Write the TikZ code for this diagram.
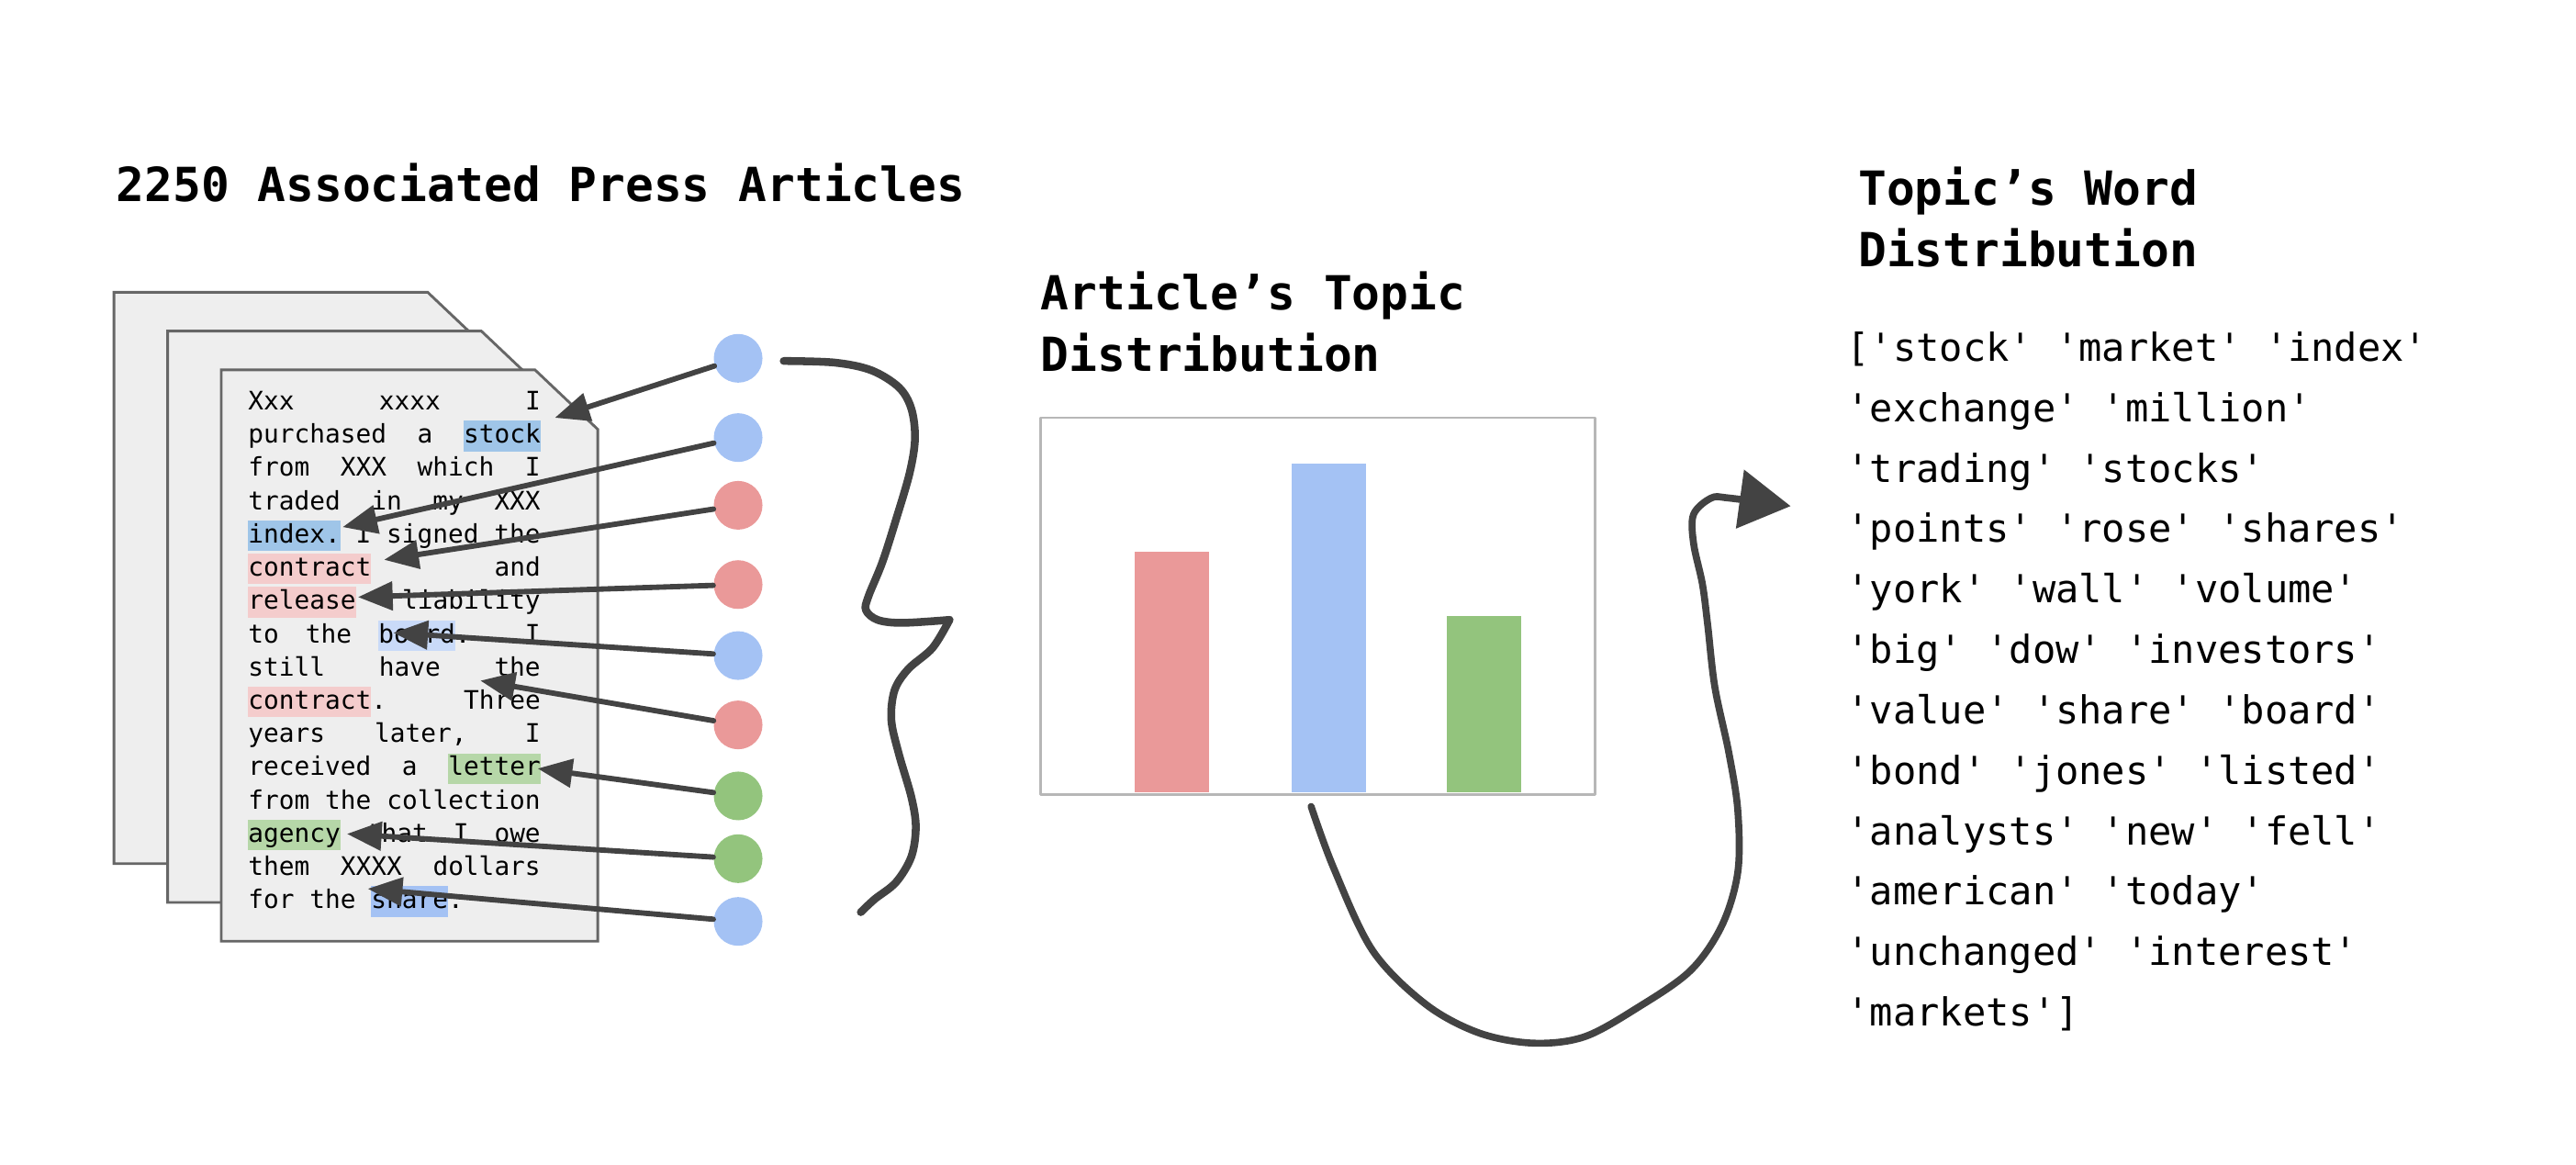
\documentclass[tikz,border=0pt]{standalone}
\usepackage{fontspec}
\usetikzlibrary{arrows.meta}
\newfontfamily\codefont{DejaVu Sans Mono}[Ligatures=TeXOff]
\newcommand\hlword[2]{{\setlength{\fboxsep}{0pt}\colorbox{#1}{\rule[-2.8pt]{0pt}{10.5pt}#2}}}

\begin{document}
\begin{tikzpicture}[x=0.02cm, y=-0.02cm, line cap=round, line join=round,
  heading/.style={anchor=base west, inner sep=0pt, font=\codefont\bfseries\fontsize{16.2}{20}\selectfont},
  listline/.style={anchor=base west, inner sep=0pt, font=\codefont\fontsize{13.3}{18}\selectfont},
  pageline/.style={anchor=base west, inner sep=0pt, font=\codefont\fontsize{8.8}{11}\selectfont},
  sheet/.style={fill=sheetfill, draw=sheetedge, line width=0.032cm, line join=miter},
  topicdot/.style={circle, minimum size=0.59cm, inner sep=0pt},
  ptr/.style={draw=ink, line width=0.065cm, -{Triangle[length=0.42cm, width=0.34cm]}},
  flow/.style={draw=ink, line width=0.085cm}]
\definecolor{ink}{rgb}{0.263, 0.263, 0.263}
\definecolor{sheetfill}{rgb}{0.933, 0.933, 0.933}
\definecolor{sheetedge}{rgb}{0.4, 0.4, 0.4}
\definecolor{frame}{rgb}{0.718, 0.718, 0.718}
\definecolor{dotblue}{rgb}{0.643, 0.761, 0.957}
\definecolor{dotred}{rgb}{0.918, 0.6, 0.6}
\definecolor{dotgreen}{rgb}{0.576, 0.769, 0.490}
\definecolor{hlstock}{rgb}{0.624, 0.773, 0.910}
\definecolor{hlboard}{rgb}{0.788, 0.855, 0.973}
\definecolor{hlred}{rgb}{0.957, 0.8, 0.8}
\definecolor{hlgreen}{rgb}{0.714, 0.843, 0.659}

  \useasboundingbox (0,0) rectangle (1560,705);

  % the three stacked articles
  \foreach \x/\y in {69/177, 101.5/200.5, 134/224}
    \path[sheet] (\x,\y) -- ++(190,0) -- ++(38,36) -- ++(0,310) -- ++(-228,0) -- cycle;

  \foreach \txt [count=\i] in {
      {Xxx xxxx I},
      {purchased a \hlword{hlstock}{stock}},
      {from XXX which I},
      {traded in my XXX},
      {\hlword{hlstock}{index.} I signed the},
      {\hlword{hlred}{contract} and},
      {\hlword{hlred}{release} liability},
      {to the \hlword{hlboard}{board}. I},
      {still have the},
      {\hlword{hlred}{contract}. Three},
      {years later, I},
      {received a \hlword{hlgreen}{letter}},
      {from the collection},
      {\hlword{hlgreen}{agency} that I owe},
      {them XXXX dollars},
      {for the \hlword{dotblue}{share}.\hfill}}
    \node[pageline] (p\i) at (150,{248.2+(\i-1)*20.14}) {\makebox[3.54cm][s]{\txt}};

  \node[heading] (h1) at (70,122.3) {2250 Associated Press Articles};
  \node[heading] (h2) at (630,187.9) {Article’s Topic};
  \node[heading] (h3) at (630,224.9) {Distribution};
  \node[heading] (h4) at (1125,124.3) {Topic’s Word};
  \node[heading] (h5) at (1125,161.3) {Distribution};

  % topic of each word
  \foreach \y/\c [count=\i] in {217/dotblue, 265/dotblue, 306/dotred, 354/dotred,
      397/dotblue, 439/dotred, 482/dotgreen, 520/dotgreen, 558/dotblue}
    \node[topicdot, fill=\c] (t\i) at (447,\y) {};

  \foreach \x/\y [count=\i] in {336/253, 207.5/319.2, 232.6/339, 216.8/361.6, 238.2/383.2,
      290.9/412.2, 325.6/465.4, 210.1/505, 222.7/538.2}
    \coordinate (w\i) at (\x,\y);

  \foreach \i in {1,...,9}
    \draw[ptr] (t\i) -- (w\i);

  % wavy brace
  \draw[flow, line width=0.095cm] plot[smooth, tension=0.55] coordinates {
      (474.6,218.6) (505.6,219.6) (527.8,224.3) (544.4,234.6) (551.9,247.5) (554.1,265.6)
      (550.9,286.3) (542.6,314.7) (534.3,340.6) (525.9,361.2) (524.4,369.5) (531.5,375.4)
      (546.3,377.2) (575,375.4)};
  \draw[flow, line width=0.095cm] plot[smooth, tension=0.55] coordinates {
      (575,375.4) (564.8,392.3) (550,405.2) (541.7,418.1) (539.8,436.2) (544.4,456.8)
      (551.9,482.7) (554.6,500.7) (551.9,518.8) (542.6,534.3) (529.6,544.6) (521.3,552.4)};

  % article's topic distribution
  \draw[frame, line width=0.03cm] (630,253) rectangle (966,481);
  \foreach \x/\h/\c in {687/334/dotred, 782/281/dotblue, 876/373/dotgreen}
    \fill[\c] (\x,480) rectangle (\x+45,\h);

  \coordinate (chartout) at (794,488.4);
  \coordinate (listin) at (1084.4,306.5);
  \draw[flow, -{Triangle[length=0.62cm, width=0.7cm]}]
    plot[smooth, tension=0.55] coordinates {
      (chartout) (807.7,525.8) (831.2,575.6) (863.2,608) (895.3,625.4) (928.4,631.7)
      (959.4,627.9) (991.4,610.4) (1023.5,588) (1042.7,560.6) (1052.4,528.1)
      (1052.4,490.9) (1047,456) (1038.5,416.1) (1034.2,378.8) (1031,353.9)
      (1025.6,329) (1025.6,311.5) (1036.3,301.6) (1047,301.6) (listin)};

  % topic's word distribution
  \foreach \txt [count=\i] in {
      {['stock' 'market' 'index'},
      {'exchange' 'million'},
      {'trading' 'stocks'},
      {'points' 'rose' 'shares'},
      {'york' 'wall' 'volume'},
      {'big' 'dow' 'investors'},
      {'value' 'share' 'board'},
      {'bond' 'jones' 'listed'},
      {'analysts' 'new' 'fell'},
      {'american' 'today'},
      {'unchanged' 'interest'},
      {'markets']}}
    \node[listline] (r\i) at (1118,{218.7+(\i-1)*36.6}) {\txt};

\end{tikzpicture}
\end{document}
